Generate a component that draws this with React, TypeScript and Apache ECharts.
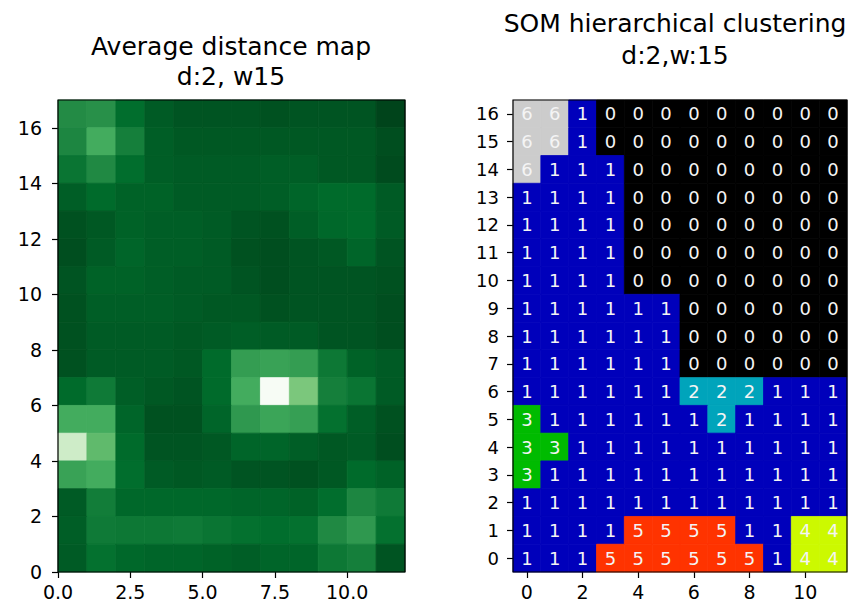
import React, { useEffect, useRef } from "react";
import * as echarts from "echarts";

// Average distance map (colormap fraction, rows listed from top row 16 down to row 0)
const distanceRows: number[][] = [
  [0.75, 0.73, 0.87, 0.93, 0.95, 0.95, 0.95, 0.96, 0.95, 0.95, 0.95, 1.0],
  [0.77, 0.62, 0.8, 0.92, 0.94, 0.94, 0.94, 0.94, 0.94, 0.94, 0.94, 0.97],
  [0.84, 0.76, 0.87, 0.92, 0.93, 0.93, 0.93, 0.92, 0.92, 0.94, 0.94, 0.98],
  [0.92, 0.88, 0.91, 0.91, 0.93, 0.93, 0.93, 0.92, 0.9, 0.88, 0.88, 0.93],
  [0.96, 0.94, 0.91, 0.92, 0.92, 0.93, 0.95, 0.96, 0.92, 0.89, 0.88, 0.93],
  [0.97, 0.93, 0.9, 0.92, 0.92, 0.93, 0.96, 0.97, 0.95, 0.94, 0.9, 0.95],
  [0.95, 0.91, 0.91, 0.92, 0.93, 0.93, 0.95, 0.97, 0.95, 0.95, 0.95, 0.96],
  [0.96, 0.92, 0.92, 0.92, 0.93, 0.94, 0.94, 0.96, 0.95, 0.95, 0.95, 0.97],
  [0.96, 0.93, 0.93, 0.93, 0.94, 0.93, 0.92, 0.93, 0.93, 0.95, 0.95, 0.97],
  [0.96, 0.93, 0.93, 0.93, 0.94, 0.88, 0.68, 0.66, 0.68, 0.83, 0.91, 0.93],
  [0.88, 0.82, 0.92, 0.94, 0.95, 0.88, 0.62, 0.0, 0.48, 0.8, 0.84, 0.93],
  [0.62, 0.62, 0.9, 0.96, 0.96, 0.9, 0.7, 0.65, 0.67, 0.86, 0.92, 0.96],
  [0.22, 0.55, 0.88, 0.95, 0.95, 0.94, 0.9, 0.9, 0.92, 0.94, 0.93, 0.97],
  [0.66, 0.62, 0.87, 0.93, 0.94, 0.93, 0.95, 0.95, 0.96, 0.94, 0.88, 0.91],
  [0.93, 0.81, 0.89, 0.89, 0.89, 0.89, 0.9, 0.9, 0.91, 0.87, 0.77, 0.82],
  [0.92, 0.82, 0.83, 0.83, 0.82, 0.84, 0.86, 0.87, 0.86, 0.76, 0.7, 0.86],
  [0.93, 0.86, 0.89, 0.9, 0.9, 0.91, 0.92, 0.9, 0.9, 0.83, 0.8, 0.95],
];

// SOM cluster labels (rows from top row 16 down to row 0)
const clusterRows: number[][] = [
  [6, 6, 1, 0, 0, 0, 0, 0, 0, 0, 0, 0],
  [6, 6, 1, 0, 0, 0, 0, 0, 0, 0, 0, 0],
  [6, 1, 1, 1, 0, 0, 0, 0, 0, 0, 0, 0],
  [1, 1, 1, 1, 0, 0, 0, 0, 0, 0, 0, 0],
  [1, 1, 1, 1, 0, 0, 0, 0, 0, 0, 0, 0],
  [1, 1, 1, 1, 0, 0, 0, 0, 0, 0, 0, 0],
  [1, 1, 1, 1, 0, 0, 0, 0, 0, 0, 0, 0],
  [1, 1, 1, 1, 1, 1, 0, 0, 0, 0, 0, 0],
  [1, 1, 1, 1, 1, 1, 0, 0, 0, 0, 0, 0],
  [1, 1, 1, 1, 1, 1, 0, 0, 0, 0, 0, 0],
  [1, 1, 1, 1, 1, 1, 2, 2, 2, 1, 1, 1],
  [3, 1, 1, 1, 1, 1, 1, 2, 1, 1, 1, 1],
  [3, 3, 1, 1, 1, 1, 1, 1, 1, 1, 1, 1],
  [3, 1, 1, 1, 1, 1, 1, 1, 1, 1, 1, 1],
  [1, 1, 1, 1, 1, 1, 1, 1, 1, 1, 1, 1],
  [1, 1, 1, 1, 5, 5, 5, 5, 1, 1, 4, 4],
  [1, 1, 1, 5, 5, 5, 5, 5, 5, 1, 4, 4],
];

const clusterColors = ["#000000", "#0000bb", "#00a4bb", "#00bb00", "#ccf900", "#ff3300", "#cccccc"];
const greens = ["#f7fcf5", "#e5f5e0", "#c7e9c0", "#a1d99b", "#74c476", "#41ab5d", "#238b45", "#006d2c", "#00441b"];

const leftXTicks = [0, 2.5, 5, 7.5, 10];
const leftYTicks = [0, 2, 4, 6, 8, 10, 12, 14, 16];
const somXCategories = ["0", "1", "2", "3", "4", "5", "6", "7", "8", "9", "10", "11"];
const somYCategories = ["0", "1", "2", "3", "4", "5", "6", "7", "8", "9", "10", "11", "12", "13", "14", "15", "16"];

const FONT = "DejaVu Sans";
const G1 = { left: 58, top: 100, width: 347, height: 472 };
const G2 = { left: 513, top: 100, width: 334, height: 472 };

export default function App() {
  const ref = useRef<HTMLDivElement>(null);
  useEffect(() => {
    if (!ref.current) return;
    const chart = echarts.init(ref.current, undefined, { renderer: "svg" });
    const nRows = distanceRows.length;
    const distData: number[][] = [];
    distanceRows.forEach((row, i) => row.forEach((v, j) => distData.push([j, nRows - 1 - i, v])));
    const cRows = clusterRows.length;
    const clusterData: number[][] = [];
    clusterRows.forEach((row, i) => row.forEach((v, j) => clusterData.push([j, cRows - 1 - i, v])));

    const tickLabel = { color: "#000", fontFamily: FONT, fontSize: 19 };
    const axisTick = { show: true, length: 6, lineStyle: { color: "#000", width: 1.2 } };

    chart.setOption({
      animation: false,
      backgroundColor: "#fff",
      grid: [
        { ...G1, containLabel: false },
        { ...G2, containLabel: false },
      ],
      xAxis: [
        {
          type: "value",
          gridIndex: 0,
          min: 0,
          max: 12,
          splitLine: { show: false },
          axisLine: { show: false },
          axisTick: { ...axisTick, customValues: leftXTicks },
          axisLabel: { ...tickLabel, margin: 10, customValues: leftXTicks, formatter: (v: number) => v.toFixed(1) },
        },
        {
          type: "category",
          gridIndex: 1,
          data: somXCategories,
          splitLine: { show: false },
          axisLine: { show: false },
          axisTick: { ...axisTick, alignWithLabel: true, interval: 1 },
          axisLabel: { ...tickLabel, margin: 10, interval: 1 },
        },
      ],
      yAxis: [
        {
          type: "value",
          gridIndex: 0,
          min: 0,
          max: 17,
          splitLine: { show: false },
          axisLine: { show: false },
          axisTick: { ...axisTick, customValues: leftYTicks },
          axisLabel: { ...tickLabel, margin: 16, customValues: leftYTicks },
        },
        {
          type: "category",
          gridIndex: 1,
          data: somYCategories,
          splitLine: { show: false },
          axisLine: { show: false },
          axisTick: { ...axisTick, alignWithLabel: true, interval: 0 },
          axisLabel: { ...tickLabel, fontSize: 18, margin: 14, interval: 0 },
        },
      ],
      visualMap: [
        {
          type: "continuous",
          show: false,
          seriesIndex: 0,
          dimension: 2,
          min: 0,
          max: 1,
          inRange: { color: greens },
        },
        {
          type: "piecewise",
          show: false,
          seriesIndex: 1,
          dimension: 2,
          pieces: clusterColors.map((c, i) => ({ value: i, color: c })),
        },
      ],
      series: [
        {
          type: "custom",
          xAxisIndex: 0,
          yAxisIndex: 0,
          data: distData,
          encode: { x: 0, y: 1 },
          renderItem: (params: any, api: any) => {
            const x = api.value(0);
            const y = api.value(1);
            const p0 = api.coord([x, y + 1]);
            const p1 = api.coord([x + 1, y]);
            const color = api.visual("color");
            return {
              type: "rect",
              shape: { x: p0[0], y: p0[1], width: p1[0] - p0[0], height: p1[1] - p0[1] },
              style: { fill: color, stroke: color, lineWidth: 0.8 },
            };
          },
        },
        {
          type: "custom",
          xAxisIndex: 1,
          yAxisIndex: 1,
          data: clusterData,
          encode: { x: 0, y: 1 },
          renderItem: (params: any, api: any) => {
            const c = api.coord([api.value(0), api.value(1)]);
            const s = api.size([1, 1]);
            const color = api.visual("color");
            return {
              type: "rect",
              shape: { x: c[0] - s[0] / 2, y: c[1] - s[1] / 2, width: s[0], height: s[1] },
              style: { fill: color, stroke: color, lineWidth: 0.8 },
              textContent: {
                style: {
                  text: String(api.value(2)),
                  fill: "#f4f4f4",
                  fontFamily: FONT,
                  fontSize: 18,
                },
              },
              textConfig: { position: "inside" },
            };
          },
        },
      ],
      graphic: [
        { type: "rect", z: 100, shape: { x: G1.left, y: G1.top, width: G1.width, height: G1.height }, style: { fill: "none", stroke: "#000", lineWidth: 1.2 } },
        { type: "rect", z: 100, shape: { x: G2.left, y: G2.top, width: G2.width, height: G2.height }, style: { fill: "none", stroke: "#000", lineWidth: 1.2 } },
        { type: "text", x: 231, y: 46, style: { text: "Average distance map", fontFamily: FONT, fontSize: 25, fill: "#000", align: "center", verticalAlign: "middle" } },
        { type: "text", x: 231, y: 76, style: { text: "d:2, w15", fontFamily: FONT, fontSize: 25, fill: "#000", align: "center", verticalAlign: "middle" } },
        { type: "text", x: 675, y: 23, style: { text: "SOM hierarchical clustering", fontFamily: FONT, fontSize: 25, fill: "#000", align: "center", verticalAlign: "middle" } },
        { type: "text", x: 675, y: 55, style: { text: "d:2,w:15", fontFamily: FONT, fontSize: 25, fill: "#000", align: "center", verticalAlign: "middle" } },
      ],
    });
    return () => chart.dispose();
  }, []);
  return <div ref={ref} style={{ position: "fixed", left: 0, top: 0, width: 853, height: 607 }} />;
}
